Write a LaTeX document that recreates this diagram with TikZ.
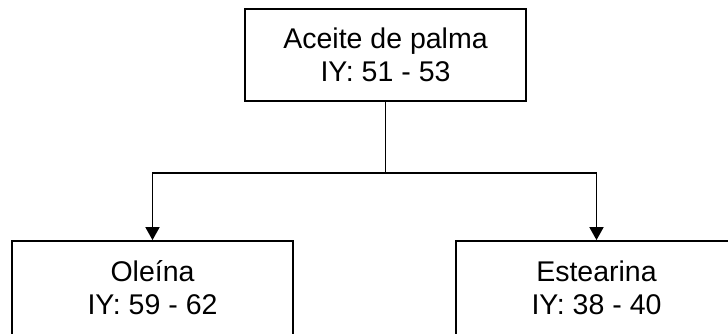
\documentclass[tikz,border=0pt]{standalone}
\usepackage{fontspec}
\setmainfont{Liberation Sans}
\usetikzlibrary{arrows.meta}
\begin{document}
\begin{tikzpicture}[x=1pt,y=1pt,
  fraction/.style={draw=black, line width=1.8pt, minimum width=281pt,
    minimum height=92pt, inner sep=0pt, align=center,
    font=\fontsize{28.5}{33}\selectfont},
  link/.style={draw=black, line width=1.8pt},
  tip/.style={-{Triangle[width=14pt,length=13pt]}}]
  \useasboundingbox (0,0) rectangle (728,333);
  \clip (0,0) rectangle (728,333);
  % source oil and its two fractions
  \node[fraction] (oil) at (385.5,278) {Aceite de palma\\IY: 51 - 53};
  \node[fraction, minimum height=94pt] (olein) at (152.5,45) {Oleína\\IY: 59 - 62};
  \node[fraction, minimum height=94pt] (stearin) at (596.5,45) {Estearina\\IY: 38 - 40};
  % branching connector
  \coordinate (split) at (385.5,160);
  \draw[link] (oil.south) -- (split);
  \draw[link,tip] (split) -| (olein.north);
  \draw[link,tip] (split) -| (stearin.north);
\end{tikzpicture}
\end{document}
